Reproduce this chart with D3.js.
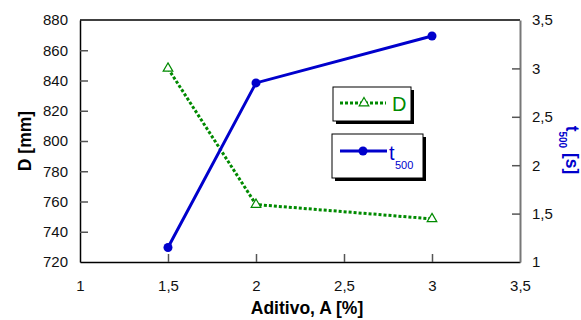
<!DOCTYPE html>
<html><head><meta charset="utf-8">
<script src="https://cdn.jsdelivr.net/npm/d3@7"></script>
<style>body{margin:0;background:#fff}svg{display:block}text{font-family:"Liberation Sans",Arial,sans-serif}</style>
</head><body><svg id="c" width="581" height="320"></svg>
<script>
const additive = [1.5, 2, 3];
const diameter = [848, 758, 748.5];
const t500 = [1.15, 2.85, 3.335];
const xTicks = [1, 1.5, 2, 2.5, 3, 3.5];
const yLeftTicks = [720, 740, 760, 780, 800, 820, 840, 860, 880];
const yRightTicks = [1, 1.5, 2, 2.5, 3, 3.5];

const svg = d3.select("#c");
const L = 80, R = 520, T = 20, B = 262;
const x = d3.scaleLinear().domain([1, 3.5]).range([L, R]);
const yL = d3.scaleLinear().domain([720, 880]).range([B, T]);
const yR = d3.scaleLinear().domain([1, 3.5]).range([B, T]);
const fmt = d => String(d).replace(".", ",");

// frame
svg.append("line").attr("x1", L).attr("x2", R).attr("y1", T).attr("y2", T).attr("stroke", "#000").attr("stroke-width", 1.5);

const gx = svg.append("g").attr("transform", `translate(0,${B})`)
  .call(d3.axisBottom(x).tickValues(xTicks).tickFormat(fmt).tickSizeInner(-8).tickSizeOuter(0).tickPadding(18));
const gl = svg.append("g").attr("transform", `translate(${L},0)`)
  .call(d3.axisLeft(yL).tickValues(yLeftTicks).tickFormat(d => d).tickSizeInner(-8).tickSizeOuter(0).tickPadding(12));
const gr = svg.append("g").attr("transform", `translate(${R},0)`)
  .call(d3.axisRight(yR).tickValues(yRightTicks).tickFormat(fmt).tickSizeInner(-8).tickSizeOuter(0).tickPadding(12));
[gx, gl, gr].forEach(g => {
  g.selectAll("text").attr("font-size", 15).attr("fill", "#111").style("font-family", '"Liberation Sans",Arial,sans-serif');
  g.selectAll(".tick line").attr("stroke", "#555").attr("stroke-width", 1.5);
  g.select(".domain").attr("stroke", "#000").attr("stroke-width", 1.5);
});
gr.select(".domain").attr("stroke", "#777").attr("stroke-width", 2);
gr.selectAll(".tick").filter(d => d === 1 || d === 3.5).select("line").remove();
gl.selectAll(".tick").filter(d => d === 720 || d === 880).select("line").remove();
gx.selectAll(".tick").filter(d => d === 1 || d === 3.5).select("line").remove();

// axis titles
svg.append("text").attr("x", 307).attr("y", 314).attr("text-anchor", "middle")
  .attr("font-size", 17.5).attr("font-weight", "bold").text("Aditivo, A [%]");
svg.append("text").attr("transform", "translate(31,141) rotate(-90)").attr("text-anchor", "middle")
  .attr("font-size", 17.5).attr("font-weight", "bold").text("D [mm]");
const rt = svg.append("text").attr("transform", "translate(566,150) rotate(90)").attr("text-anchor", "middle")
  .attr("font-size", 17.5).attr("font-weight", "bold").attr("fill", "#0000cc");
rt.append("tspan").text("t");
rt.append("tspan").attr("font-size", 10).attr("dy", 7).text("500");
rt.append("tspan").attr("dy", -7).text(" [s]");

const green = "#008a00", blue = "#0000cc";
const dData = additive.map((a, i) => [a, diameter[i]]);
const tData = additive.map((a, i) => [a, t500[i]]);

svg.append("path").datum(dData).attr("fill", "none").attr("stroke", green).attr("stroke-width", 3)
  .attr("stroke-dasharray", "3,2").attr("d", d3.line().x(d => x(d[0])).y(d => yL(d[1])));
const tri = d3.symbol().type(d3.symbolTriangle).size(40);
svg.selectAll(".tri").data(dData).enter().append("path")
  .attr("transform", d => `translate(${x(d[0])},${yL(d[1])})`)
  .attr("d", tri).attr("fill", "#fff").attr("stroke", green).attr("stroke-width", 1.2);

svg.append("path").datum(tData).attr("fill", "none").attr("stroke", blue).attr("stroke-width", 3)
  .attr("d", d3.line().x(d => x(d[0])).y(d => yR(d[1])));
svg.selectAll(".dot").data(tData).enter().append("circle")
  .attr("cx", d => x(d[0])).attr("cy", d => yR(d[1])).attr("r", 4.5).attr("fill", blue);

// legends
function box(x0, y0, w, h) {
  svg.append("rect").attr("x", x0 + 3).attr("y", y0 + 3).attr("width", w).attr("height", h).attr("fill", "#000");
  svg.append("rect").attr("x", x0).attr("y", y0).attr("width", w).attr("height", h).attr("fill", "#fff").attr("stroke", "#000").attr("stroke-width", 1);
}
box(333, 87, 78, 34);
svg.append("line").attr("x1", 340).attr("x2", 386).attr("y1", 103).attr("y2", 103)
  .attr("stroke", green).attr("stroke-width", 3).attr("stroke-dasharray", "3,2");
svg.append("path").attr("transform", "translate(364,103)").attr("d", tri).attr("fill", "#fff").attr("stroke", green).attr("stroke-width", 1.2);
svg.append("text").attr("x", 392).attr("y", 111).attr("font-size", 20).attr("fill", green).text("D");

box(332, 134, 91, 44);
svg.append("line").attr("x1", 340).attr("x2", 387).attr("y1", 151).attr("y2", 151).attr("stroke", blue).attr("stroke-width", 3);
svg.append("circle").attr("cx", 363).attr("cy", 151).attr("r", 4.5).attr("fill", blue);
svg.append("text").attr("x", 389).attr("y", 160).attr("font-size", 20).attr("fill", blue).text("t");
svg.append("text").attr("x", 395).attr("y", 169).attr("font-size", 11).attr("fill", blue).text("500");
</script></body></html>
